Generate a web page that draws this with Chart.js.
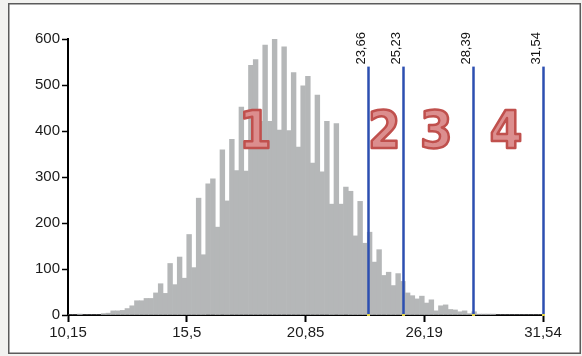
<!DOCTYPE html>
<html>
<head>
<meta charset="utf-8">
<script src="https://cdn.jsdelivr.net/npm/chart.js@4.4.1/dist/chart.umd.min.js"></script>
<style>
  html, body { margin: 0; padding: 0; background: #f2f2f0; }
  #wrap { position: absolute; left: 0; top: 0; width: 582px; height: 356px; }
</style>
</head>
<body>
<div id="wrap"><canvas id="c" width="582" height="356"></canvas></div>
<script>
// Histogram range and per-bin counts (100 equal-width bins)
const binStart = 10.15;
const binEnd = 31.54;
const counts = [
  0, 0, 2, 0, 0, 0, 0, 3, 4, 9,
  9, 10, 14, 20, 31, 31, 36, 36, 48, 68,
  47, 112, 66, 126, 80, 175, 103, 254, 131, 285,
  296, 191, 359, 248, 382, 314, 452, 313, 543, 555,
  421, 587, 421, 602, 402, 583, 401, 527, 365, 498,
  519, 330, 478, 311, 421, 241, 416, 241, 278, 269,
  172, 247, 156, 180, 115, 142, 86, 93, 64, 90,
  73, 48, 42, 35, 41, 26, 33, 9, 20, 22,
  12, 11, 7, 9, 3, 7, 2, 2, 2, 2,
  0, 0, 0, 0, 0, 0, 0, 0, 0, 0
];

// Axis ticks
const xTickValues = [10.15, 15.5, 20.85, 26.19, 31.54];
const yTickMax = 600;
const yTickStep = 100;

// Zone boundaries and zone numbers
const cutoffs = [23.66, 25.23, 28.39, 31.54];
const zoneLabels = ['1', '2', '3', '4'];
const zoneCentres = [18.58, 24.39, 26.73, 29.88];

const fmt = v => String(v).replace('.', ',');

const binWidth = (binEnd - binStart) / counts.length;
const points = counts.map((c, i) => ({ x: binStart + (i + 0.5) * binWidth, y: c }));

const AXIS_FONT = "'Liberation Sans', Arial, sans-serif";

// Frame: light surround with a white bordered panel
const framePlugin = {
  id: 'frame',
  beforeDraw(chart) {
    const ctx = chart.ctx;
    ctx.save();
    ctx.fillStyle = '#f2f2f0';
    ctx.fillRect(0, 0, chart.width, chart.height);
    ctx.fillStyle = '#ffffff';
    ctx.fillRect(8, 3, 573, 351);
    ctx.strokeStyle = '#5b5b5b';
    ctx.lineWidth = 1.5;
    ctx.strokeRect(8.75, 3.75, 571.5, 349.5);
    ctx.restore();
  }
};

// Vertical cutoff lines with rotated value labels, plus zone numbers
const cutoffPlugin = {
  id: 'cutoffs',
  afterDatasetsDraw(chart) {
    const { ctx, scales: { x, y } } = chart;
    const yBase = y.getPixelForValue(0);
    const yTop = y.getPixelForValue(540);
    ctx.save();
    cutoffs.forEach(v => {
      const px = Math.round(x.getPixelForValue(v)) + 0.5;
      ctx.strokeStyle = '#2d4fb1';
      ctx.lineWidth = 2.5;
      ctx.beginPath();
      ctx.moveTo(px, yBase);
      ctx.lineTo(px, yTop);
      ctx.stroke();
      ctx.fillStyle = '#e6d64a';
      ctx.fillRect(px - 1.5, yBase - 1, 3, 2);

      ctx.save();
      ctx.translate(px - 7, yTop - 2);
      ctx.rotate(-Math.PI / 2);
      ctx.font = "13px " + AXIS_FONT;
      ctx.fillStyle = '#111111';
      ctx.textAlign = 'left';
      ctx.textBaseline = 'middle';
      ctx.fillText(fmt(v), 0, 0);
      ctx.restore();
    });

    const cy = y.getPixelForValue(392);
    ctx.font = "bold 52px 'DejaVu Sans Condensed', 'DejaVu Sans', sans-serif";
    ctx.textAlign = 'center';
    ctx.textBaseline = 'middle';
    ctx.lineJoin = 'round';
    zoneLabels.forEach((t, i) => {
      const cx = x.getPixelForValue(zoneCentres[i]);
      ctx.fillStyle = '#dc8e8e';
      ctx.fillText(t, cx, cy);
      ctx.strokeStyle = '#c0504d';
      ctx.lineWidth = 2.5;
      ctx.strokeText(t, cx, cy);
    });
    ctx.restore();
  }
};

new Chart(document.getElementById('c'), {
  type: 'bar',
  data: {
    datasets: [{
      data: points,
      backgroundColor: '#b5b7b8',
      borderWidth: 0,
      barPercentage: 1,
      categoryPercentage: 1
    }]
  },
  options: {
    responsive: false,
    animation: false,
    devicePixelRatio: 1,
    layout: { padding: { top: 39, right: 39, left: 0, bottom: 0 } },
    plugins: { legend: { display: false }, tooltip: { enabled: false } },
    scales: {
      x: {
        type: 'linear',
        min: binStart,
        max: binEnd,
        offset: false,
        afterBuildTicks: s => { s.ticks = xTickValues.map(v => ({ value: v })); },
        afterFit: s => { s.height = 41; },
        ticks: {
          autoSkip: false,
          maxRotation: 0,
          padding: 2,
          color: '#1b1b1b',
          font: { family: AXIS_FONT, size: 15 },
          callback: v => fmt(v)
        },
        grid: {
          display: true,
          offset: false,
          drawOnChartArea: false,
          drawTicks: true,
          tickLength: 7,
          tickWidth: 2,
          tickColor: '#000000'
        },
        border: { display: true, color: '#000000', width: 2 }
      },
      y: {
        min: 0,
        max: yTickMax,
        afterFit: s => { s.width = 68; },
        ticks: {
          stepSize: yTickStep,
          padding: 2,
          color: '#1b1b1b',
          font: { family: AXIS_FONT, size: 15 }
        },
        grid: {
          display: true,
          drawOnChartArea: false,
          drawTicks: true,
          tickLength: 6,
          tickWidth: 1.5,
          tickColor: '#000000'
        },
        border: { display: true, color: '#000000', width: 2 }
      }
    }
  },
  plugins: [framePlugin, cutoffPlugin]
});
</script>
</body>
</html>
